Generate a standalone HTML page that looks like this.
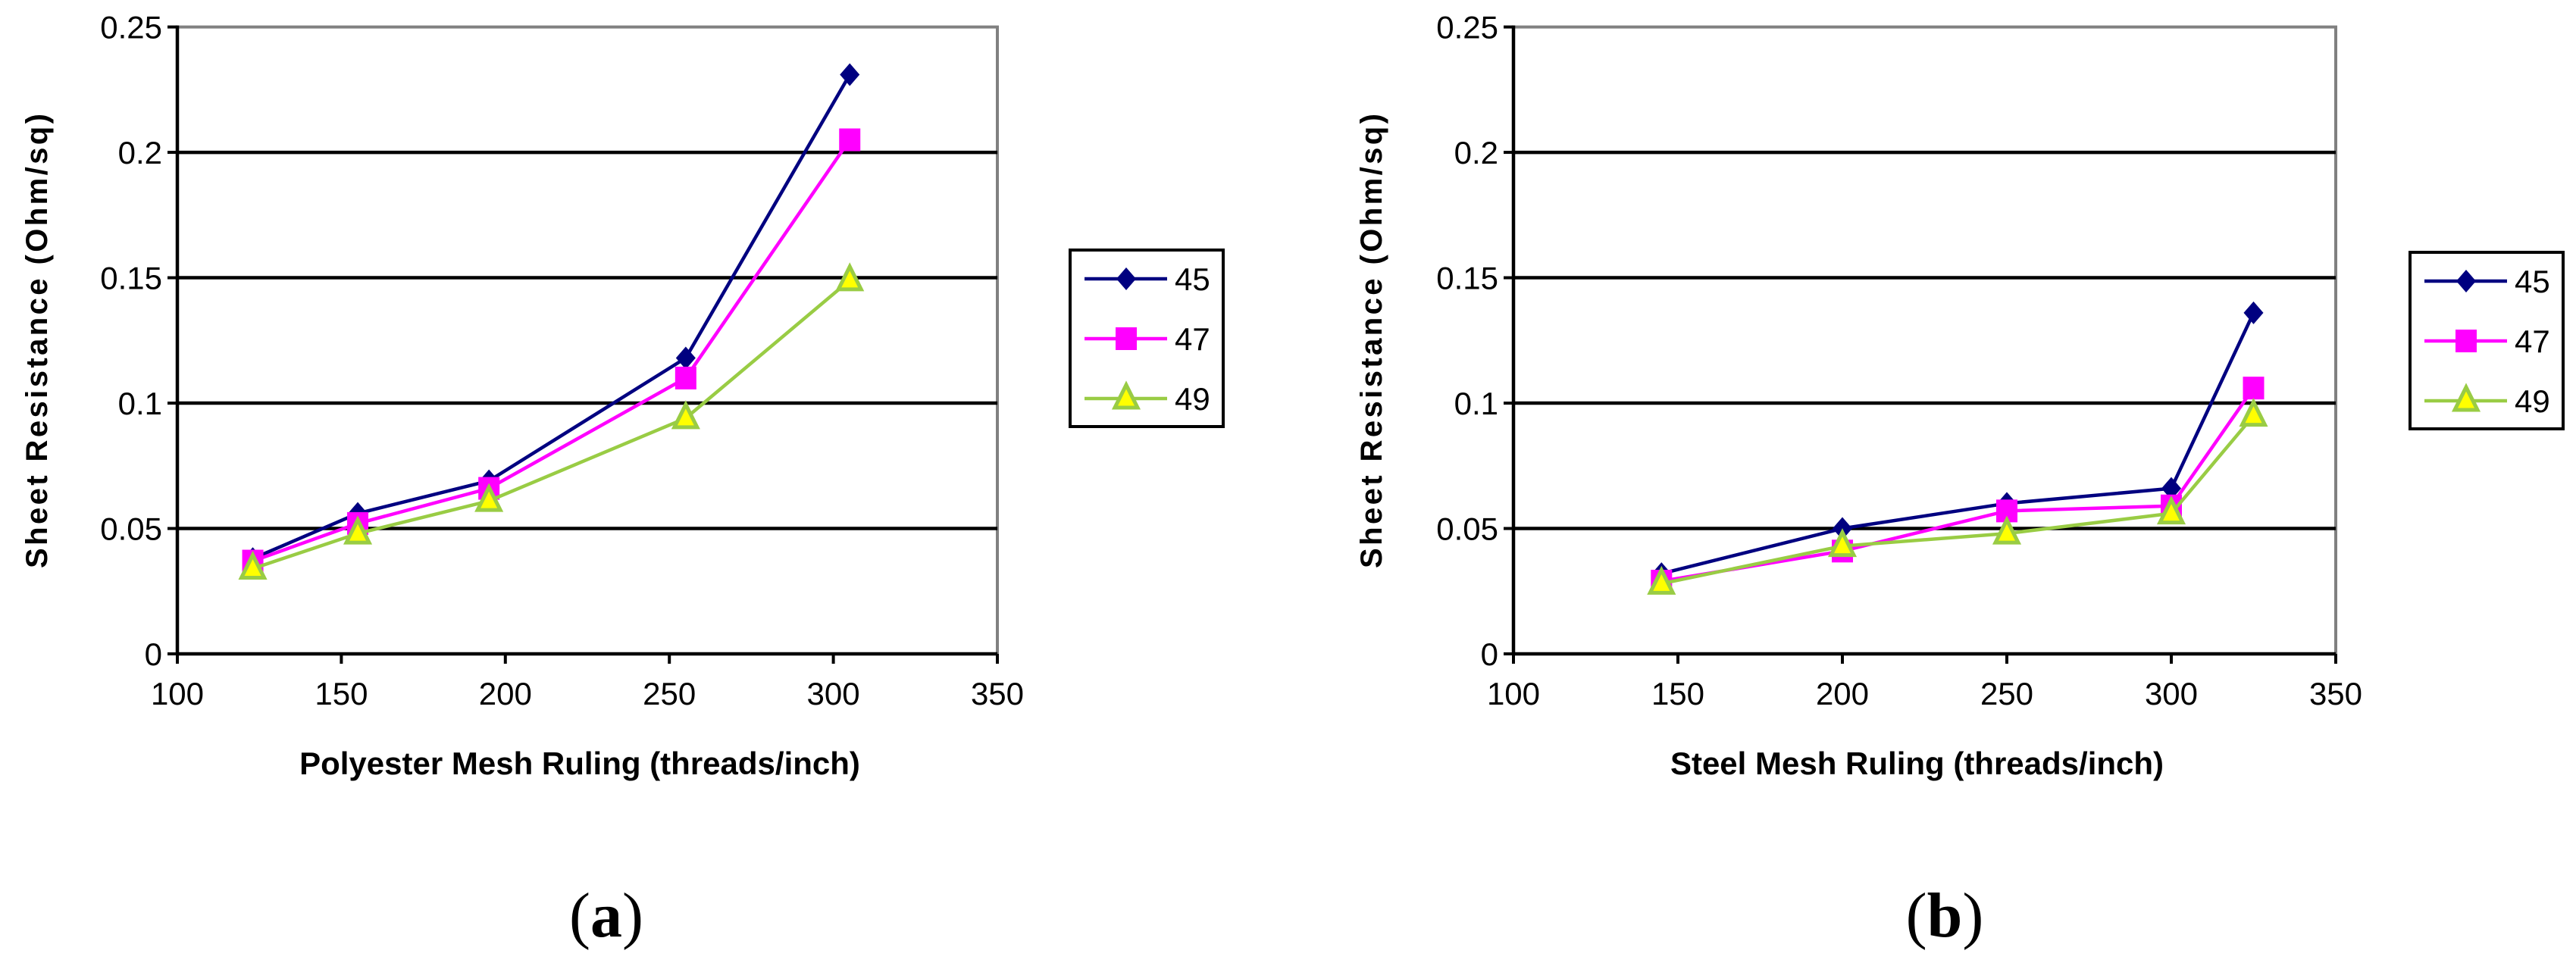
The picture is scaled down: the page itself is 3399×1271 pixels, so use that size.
<!DOCTYPE html>
<html><head><meta charset="utf-8"><style>
html,body{margin:0;padding:0;background:#fff;}
svg{display:block;font-family:"Liberation Sans",Arial,sans-serif;}
</style></head><body>
<svg id="chart" width="3399" height="1271" viewBox="0 0 3399 1271" xmlns="http://www.w3.org/2000/svg"></svg>
<script>
const seriesNames = ["45","47","49"];
const yTicks = [0,0.05,0.1,0.15,0.2,0.25];
const yTickLabels = ["0","0.05","0.1","0.15","0.2","0.25"];
const xTicks = [100,150,200,250,300,350];
const xTickLabels = ["100","150","200","250","300","350"];
const xA = [123,155,195,255,305];
const a45 = [0.038,0.056,0.069,0.118,0.231];
const a47 = [0.037,0.052,0.066,0.110,0.205];
const a49 = [0.034,0.048,0.061,0.094,0.149];
const xB = [145,200,250,300,325];
const b45 = [0.032,0.050,0.060,0.066,0.136];
const b47 = [0.029,0.041,0.057,0.059,0.106];
const b49 = [0.028,0.043,0.048,0.056,0.095];

const NS="http://www.w3.org/2000/svg";
const svg=document.getElementById('chart');
function mk(tag,attrs,parent){const e=document.createElementNS(NS,tag);for(const k in attrs)e.setAttribute(k,attrs[k]);(parent||svg).appendChild(e);return e;}
const styles=[{c:"#000080",m:"diamond",f:"#000080"},{c:"#ff00ff",m:"square",f:"#ff00ff"},{c:"#99cc44",m:"triangle",f:"#ffff00"}];
function marker(g,type,x,y,col,fill){
  let e;
  if(type==="diamond"){e=mk('polygon',{points:`${x},${y-15} ${x+13},${y} ${x},${y+15} ${x-13},${y}`,fill:fill},g);}
  else if(type==="square"){e=mk('rect',{x:x-14,y:y-15,width:28,height:30,fill:fill},g);}
  else {e=mk('polygon',{points:`${x},${y-18} ${x+15},${y+12} ${x-15},${y+12}`,fill:fill,stroke:col,'stroke-width':5},g);}
  return e;
}
function drawChart(id,L,R,xs,sets,xTitle,yTitleX,legX,legY,capX,capLabel){
  const T=35.6,B=863;
  const X=v=>L+(v-100)/250*(R-L);
  const Y=v=>B-v/0.25*(B-T);
  const g=mk('g',{});
  
  
  // plot border
  mk('polyline',{points:`${L},${T} ${R},${T} ${R},${B}`,fill:"none",stroke:"#808080","stroke-width":4},g);
  // gridlines
  yTicks.forEach((t,i)=>{
    if(t>0&&t<0.25){const l=mk('line',{x1:L,x2:R,y1:Y(t),y2:Y(t),stroke:"#000","stroke-width":4.5},g);
      
      }
    mk('line',{x1:L-13,x2:L,y1:Y(t),y2:Y(t),stroke:"#000","stroke-width":4},g);
    const tx=mk('text',{x:L-20,y:Y(t)+15,"text-anchor":"end","font-size":42},g);
    tx.textContent=yTickLabels[i];
    
    
  });
  xTicks.forEach((t,i)=>{
    mk('line',{x1:X(t),x2:X(t),y1:B,y2:B+13,stroke:"#000","stroke-width":4},g);
    const tx=mk('text',{x:X(t),y:930,"text-anchor":"middle","font-size":42},g);
    tx.textContent=xTickLabels[i];
    
    
  });
  mk('line',{x1:L,x2:L,y1:T-2,y2:B+2,stroke:"#000","stroke-width":4.5},g);
  mk('line',{x1:L-2,x2:R,y1:B,y2:B,stroke:"#000","stroke-width":4.5},g);
  // series
  sets.forEach((vals,si)=>{
    const s=styles[si];
    const sg=mk('g',{},g);
    
    
    mk('polyline',{points:vals.map((v,i)=>X(xs[i])+","+Y(v)).join(" "),fill:"none",stroke:s.c,"stroke-width":4.5},sg);
    vals.forEach((v,i)=>{const m=marker(sg,s.m,X(xs[i]),Y(v),s.c,s.f);
      
      });
  });
  // titles
  const xt=mk('text',{x:(L+R)/2-10,y:1022,"text-anchor":"middle","font-size":42,"font-weight":"bold"},g);
  xt.textContent=xTitle;
  
  
  const yt=mk('text',{x:0,y:0,"text-anchor":"middle","font-size":40,"font-weight":"bold","textLength":600,"lengthAdjust":"spacing",transform:`translate(${yTitleX},450) rotate(-90)`},g);
  yt.textContent="Sheet Resistance (Ohm/sq)";
  
  
  // legend
  const lg=mk('g',{},g);
  
  
  mk('rect',{x:legX,y:legY,width:202,height:233,fill:"#fff",stroke:"#000","stroke-width":4},lg);
  const rows=[38,117,196];
  seriesNames.forEach((n,si)=>{
    const s=styles[si];const yy=legY+rows[si];
    const eg=mk('g',{},lg);
    
    
    mk('line',{x1:legX+19,x2:legX+128,y1:yy,y2:yy,stroke:s.c,"stroke-width":4.5},eg);
    marker(eg,s.m,legX+74,yy,s.c,s.f);
    const t=mk('text',{x:legX+138,y:yy+15,"font-size":42},eg);
    t.textContent=n;
  });
  const cap=mk('text',{x:capX,y:1236,"text-anchor":"middle","font-size":84,"font-family":"Liberation Serif, serif"},g);
  cap.innerHTML='(<tspan font-weight="bold">'+capLabel+'</tspan>)';
  
  
}
drawChart('chart-a',234,1316,xA,[a45,a47,a49],"Polyester Mesh Ruling (threads/inch)",62,1412,330,800,"a");
drawChart('chart-b',1997,3082,xB,[b45,b47,b49],"Steel Mesh Ruling (threads/inch)",1823,3180,333,2566,"b");
</script>
</body></html>
